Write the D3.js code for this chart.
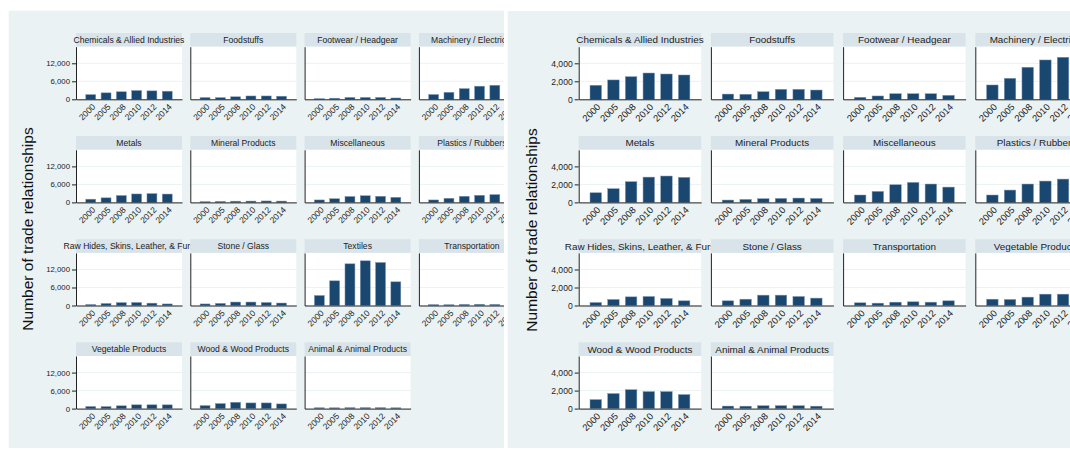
<!DOCTYPE html>
<html>
<head>
<meta charset="utf-8">
<script src="https://cdn.jsdelivr.net/npm/d3@7"></script>
<style>
  body { margin: 0; background: #fff; }
  svg { display: block; font-family: "Liberation Sans", Arial, Helvetica, sans-serif; }
</style>
</head>
<body>
<svg id="chart" width="1070" height="450"></svg>
<script>
// values (number of trade relationships per sector)
const years = ["2000", "2005", "2008", "2010", "2012", "2014"];

const chemicals = [1560, 2150, 2510, 2920, 2810, 2700];
const foodstuffs = [580, 560, 840, 1110, 1110, 1030];
const footwear = [220, 370, 620, 620, 620, 440];
const machinery = [1590, 2330, 3560, 4370, 4670, 4800];
const metals = [1070, 1520, 2300, 2810, 2930, 2780];
const mineral = [260, 330, 410, 440, 480, 440];
const misc = [820, 1220, 1960, 2220, 2040, 1700];
const plastics = [820, 1370, 2040, 2370, 2590, 2700];
const rawHides = [330, 670, 960, 1000, 780, 520];
const stoneGlass = [520, 700, 1150, 1150, 1000, 820];
const textiles = [3330, 8220, 13890, 14890, 14330, 7890];
const transportation = [300, 260, 370, 410, 370, 520];
const vegetable = [700, 670, 930, 1260, 1260, 1250];
const wood = [1000, 1670, 2100, 1890, 1890, 1560];
const animal = [280, 270, 320, 330, 320, 270];

const leftTicks = [0, 6000, 12000];
const rightTicks = [0, 2000, 4000];

const allSectors = [
  ["Chemicals & Allied Industries", chemicals],
  ["Foodstuffs", foodstuffs],
  ["Footwear / Headgear", footwear],
  ["Machinery / Electrical", machinery],
  ["Metals", metals],
  ["Mineral Products", mineral],
  ["Miscellaneous", misc],
  ["Plastics / Rubbers", plastics],
  ["Raw Hides, Skins, Leather, & Furs", rawHides],
  ["Stone / Glass", stoneGlass],
  ["Textiles", textiles],
  ["Transportation", transportation],
  ["Vegetable Products", vegetable],
  ["Wood & Wood Products", wood],
  ["Animal & Animal Products", animal]
];
// right graph leaves textiles out
const noTextiles = allSectors.filter(d => d[0] !== "Textiles");

const bgColor = "#eaf2f3";
const stripColor = "#d8e4ea";
const barColor = "#1a476f";

const svg = d3.select("#chart");

const drawPanel = (cfg) => {
  svg.append("clipPath")
    .attr("id", cfg.id)
    .append("rect")
    .attr("x", cfg.x0).attr("y", cfg.y0)
    .attr("width", cfg.x1 - cfg.x0).attr("height", cfg.y1 - cfg.y0);

  const panel = svg.append("g").attr("clip-path", `url(#${cfg.id})`);

  panel.append("rect")
    .attr("x", cfg.x0).attr("y", cfg.y0)
    .attr("width", cfg.x1 - cfg.x0).attr("height", cfg.y1 - cfg.y0)
    .attr("fill", bgColor);

  const x = d3.scaleBand()
    .domain(years)
    .range([0, cfg.colW])
    .paddingInner(0.35)
    .paddingOuter(0.64);

  const y = d3.scaleLinear()
    .domain([0, cfg.yMax])
    .range([cfg.headerH + cfg.plotH, cfg.headerH]);

  cfg.sectors.forEach(([name, values], i) => {
    const col = i % 4;
    const row = Math.floor(i / 4);
    const g = panel.append("g")
      .attr("transform", `translate(${cfg.colX0 + col * cfg.colStep}, ${cfg.rowY0 + row * cfg.rowStep})`);

    g.append("rect")
      .attr("width", cfg.colW).attr("height", cfg.headerH)
      .attr("fill", stripColor);

    g.append("rect")
      .attr("y", cfg.headerH)
      .attr("width", cfg.colW).attr("height", cfg.plotH)
      .attr("fill", "#fff");

    g.append("text")
      .attr("x", cfg.colW / 2)
      .attr("y", cfg.headerH / 2)
      .attr("dy", "0.35em")
      .attr("text-anchor", "middle")
      .attr("font-size", cfg.headerFont)
      .attr("fill", "#222")
      .text(name);

    g.append("g")
      .selectAll("line")
      .data(cfg.ticks.filter(t => t > 0))
      .join("line")
      .attr("x1", 0).attr("x2", cfg.colW)
      .attr("y1", d => y(d)).attr("y2", d => y(d))
      .attr("stroke", bgColor)
      .attr("stroke-width", 1);

    g.append("g")
      .selectAll("rect")
      .data(values)
      .join("rect")
      .attr("x", (d, j) => x(years[j]))
      .attr("width", x.bandwidth())
      .attr("y", d => y(d))
      .attr("height", d => y(0) - y(d))
      .attr("fill", barColor)
      .attr("stroke", "#7d98b3")
      .attr("stroke-width", 0.5);

    const yAxis = g.append("g")
      .call(d3.axisLeft(y).tickValues(cfg.ticks).tickFormat(d3.format(",")).tickSize(4).tickSizeOuter(0).tickPadding(2));
    yAxis.selectAll("text").attr("font-size", cfg.tickFont).attr("fill", "#222");
    yAxis.selectAll("line, path").attr("stroke", "#222");
    if (col > 0) yAxis.selectAll(".tick").remove();

    const xAxis = g.append("g")
      .attr("transform", `translate(0, ${cfg.headerH + cfg.plotH})`)
      .call(d3.axisBottom(x).tickSize(0).tickSizeOuter(0));
    xAxis.select("path").attr("stroke", "#222");
    xAxis.selectAll("text")
      .attr("y", null).attr("dy", null)
      .attr("transform", `translate(${cfg.xLabelDx}, ${cfg.xLabelDy}) rotate(-45)`)
      .attr("text-anchor", "end")
      .attr("dominant-baseline", "middle")
      .attr("font-size", cfg.xFont)
      .attr("fill", "#222");
  });

  panel.append("text")
    .attr("transform", `translate(${cfg.labelX}, ${cfg.labelY}) rotate(-90)`)
    .attr("text-anchor", "middle")
    .attr("dy", "0.35em")
    .attr("font-size", cfg.labelFont)
    .attr("fill", "#111")
    .text("Number of trade relationships");
};

drawPanel({
  id: "clipLeft",
  x0: 8.5, y0: 10.5, x1: 504, y1: 448,
  sectors: allSectors,
  colX0: 76, colStep: 114.3, colW: 106,
  rowY0: 33, rowStep: 103.1,
  headerH: 13.7, plotH: 52.6,
  yMax: 17530, ticks: leftTicks,
  headerFont: 8.6, tickFont: 7.8, xFont: 8.5,
  xLabelDx: 3.5, xLabelDy: 6.5,
  labelX: 28, labelY: 229, labelFont: 15.5
});

drawPanel({
  id: "clipRight",
  x0: 507.5, y0: 11, x1: 1070, y1: 448,
  sectors: noTextiles,
  colX0: 578.7, colStep: 132.2, colW: 122.5,
  rowY0: 33, rowStep: 103.1,
  headerH: 13.7, plotH: 52.6,
  yMax: 5845, ticks: rightTicks,
  headerFont: 9.9, tickFont: 8.6, xFont: 9.4,
  xLabelDx: 3.5, xLabelDy: 6.5,
  labelX: 532, labelY: 230, labelFont: 15.5
});
</script>
</body>
</html>
